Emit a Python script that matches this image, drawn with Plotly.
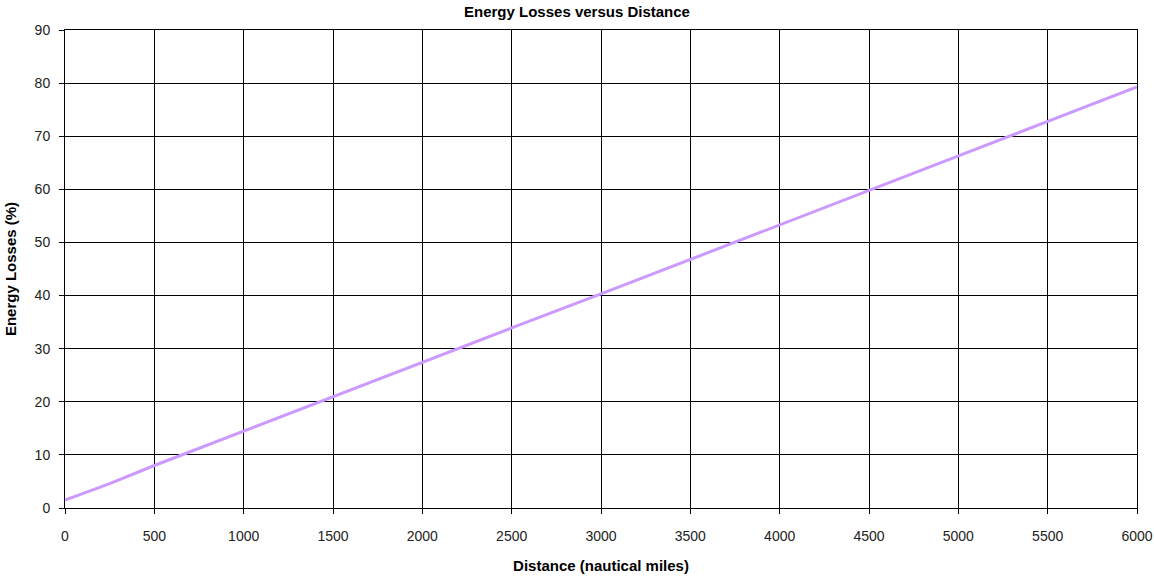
import plotly.graph_objects as go

distance = [0, 250, 500, 1000, 1500, 2000, 2500, 3000, 3500, 4000, 4500, 5000, 5500, 6000]
energy_losses = [1.5, 4.6, 8.0, 14.5, 21.0, 27.4, 33.9, 40.3, 46.8, 53.3, 59.8, 66.3, 72.8, 79.3]

fig = go.Figure()
fig.add_trace(go.Scatter(x=distance, y=energy_losses, mode="lines",
                         line=dict(color="#CC99FF", width=3), showlegend=False))

axis_common = dict(showgrid=True, gridcolor="#000000", gridwidth=1,
                   showline=True, linecolor="#000000", linewidth=1, mirror=True,
                   ticks="outside", ticklen=5, tickcolor="#000000",
                   zeroline=False, automargin=False,
                   tickfont=dict(family="Liberation Sans, Arial", size=14, color="#222222"))

fig.update_xaxes(range=[0, 6000], dtick=500, tick0=0, ticklabelstandoff=10,
                 title=dict(text="<b>Distance (nautical miles)</b>", standoff=17,
                            font=dict(family="Liberation Sans, Arial", size=15, color="#000000")),
                 **axis_common)
fig.update_yaxes(range=[0, 90], dtick=10, tick0=0, ticklabelstandoff=6,
                 title=dict(text="<b>Energy Losses (%)</b>", standoff=14,
                            font=dict(family="Liberation Sans, Arial", size=15, color="#000000")),
                 **axis_common)

fig.update_layout(
    width=1154, height=578,
    margin=dict(l=65, r=17, t=30, b=70),
    paper_bgcolor="#FFFFFF", plot_bgcolor="#FFFFFF",
    title=dict(text="<b>Energy Losses versus Distance</b>", x=0.5, xanchor="center",
               y=1 - 12 / 578, yanchor="middle",
               font=dict(family="Liberation Sans, Arial", size=15, color="#000000")),
)

fig.write_html("out.html")
